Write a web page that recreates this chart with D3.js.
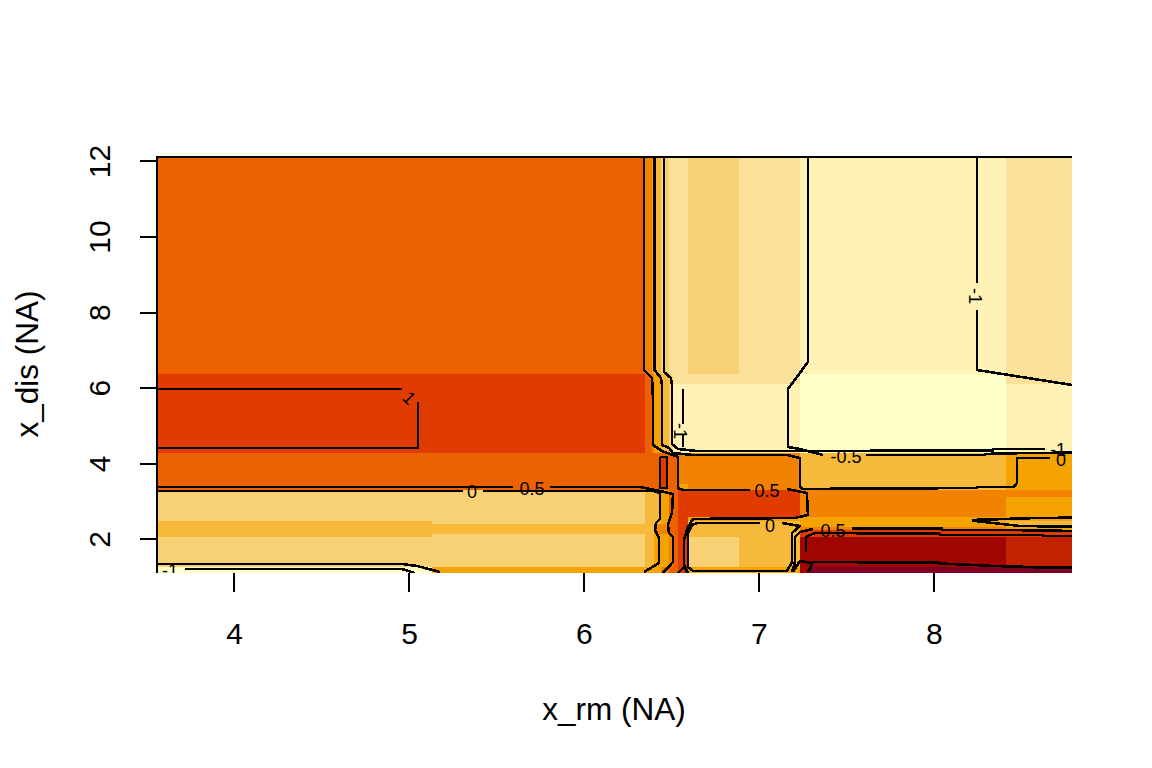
<!DOCTYPE html>
<html><head><meta charset="utf-8">
<script src="https://cdn.jsdelivr.net/npm/d3@7/dist/d3.min.js"></script>
<style>html,body{margin:0;background:#fff}svg{display:block}text{font-family:"Liberation Sans",Arial,sans-serif;fill:#000}</style>
</head><body><svg id="c" width="1152" height="768"></svg>
<script>
const xTicks = [4,5,6,7,8];
const yTicks = [2,4,6,8,10,12];
const levelColors = ["#FFFFC8","#FEF2B4","#FBE199","#F7D173","#F7B93C","#F5A300","#F28300","#EC6200","#E03B00","#C32200","#A00500","#7D0025"];
const xEdges = [3.56,5.131,6.349,6.389,6.4,6.44,6.486,6.509,6.537,6.594,6.886,7.234,8.411,8.789];
const yEdges = [12.105,6.365,6.1,4.275,3.296,3.111,2.582,2.476,2.396,2.317,2.238,2.132,2.052,1.259,1.1];
const fillLevels = [
 [7,7,6,5,4,3,2,2,2,3,2,1,2],
 [8,8,7,6,5,4,3,2,2,2,2,0,2],
 [8,8,7,6,5,4,3,1,1,1,1,0,1],
 [7,7,7,7,7,7,7,7,6,6,6,4,5],
 [3,3,4,4,4,5,7,7,8,8,8,6,6],
 [3,3,4,4,4,5,7,7,8,8,8,6,5],
 [3,3,4,4,4,5,7,7,8,5,5,5,5],
 [4,3,4,4,4,5,7,7,8,4,4,5,4],
 [4,4,4,4,6,6,7,7,8,4,4,5,4],
 [4,4,4,4,6,6,7,7,8,4,4,6,5],
 [4,4,4,4,6,6,7,7,8,4,4,8,8],
 [4,3,4,4,5,5,7,7,8,4,4,8,8],
 [3,3,4,4,5,5,6,7,8,3,4,10,9],
 [0,5,5,5,5,6,7,7,8,5,5,11,11]
];
// small cells that do not fit the main grid: x0, x1, y0, y1, level
const fillPatches = [
 [6.44,6.469,4.169,3.349,8],
 [6.549,6.594,3.455,3.296,5],
 [7.234,7.28,1.259,1.1,10]
];
const contourLines = [
 [[8.246,12.106],[8.246,8.772]],
 [[8.246,8.058],[8.246,6.471],[8.789,6.074]],
 [[7.28,12.106],[7.28,6.683],[7.166,5.968],[7.166,4.434],[7.234,4.381],[7.366,4.222]],
 [[7.611,4.222],[8.291,4.222],[8.291,4.249],[8.531,4.275],[8.789,4.283]],
 [[6.457,12.106],[6.457,6.418],[6.497,6.259],[6.503,6.074],[6.503,4.513],[6.537,4.381],[6.64,4.328],[8.337,4.336],[8.337,4.381],[8.634,4.381]],
 [[6.403,12.106],[6.403,6.471],[6.44,6.259],[6.446,6.074],[6.446,4.487],[6.486,4.407],[6.509,4.275],[6.623,4.222],[7.16,4.222],[7.234,4.143],[7.234,3.376],[7.251,3.323],[8.246,3.349],[8.246,3.376],[8.457,3.376],[8.474,3.481],[8.474,4.143],[8.663,4.143]],
 [[6.343,12.106],[6.343,6.471],[6.389,6.259],[6.394,5.757],[6.394,4.487],[6.446,4.328],[6.537,4.169],[6.537,3.349],[6.566,3.296],[6.949,3.296]],
 [[7.16,3.323],[7.274,3.217],[7.28,2.635],[7.206,2.556],[6.623,2.529],[6.594,2.317],[6.571,1.974],[6.571,1.312],[6.594,1.1]],
 [[7.006,2.423],[6.646,2.423],[6.617,2.37],[6.594,2.159],[6.594,1.259],[6.623,1.153],[7.16,1.153],[7.189,1.392],[7.189,2.159],[7.234,2.344],[7.131,2.423]],
 [[7.309,2.265],[7.234,2.185],[7.206,2.053],[7.206,1.392],[7.189,1.127]],
 [[7.531,2.283],[8.046,2.283],[8.046,2.238],[8.417,2.238],[8.789,2.212]],
 [[7.269,1.656],[7.269,2.053],[7.32,2.159],[8.034,2.14],[8.034,2.106],[8.623,2.106],[8.623,2.079],[8.789,2.079]],
 [[7.303,1.365],[7.234,1.418],[7.194,1.127]],
 [[7.28,1.127],[7.309,1.392],[8.034,1.373],[8.034,1.352],[8.189,1.32],[8.337,1.286],[8.491,1.267],[8.634,1.241],[8.789,1.241]],
 [[8.217,2.503],[8.406,2.529],[8.594,2.556],[8.789,2.563]],
 [[8.217,2.484],[8.337,2.423],[8.491,2.344],[8.789,2.325]],
 [[3.56,3.376],[5.594,3.376]],
 [[5.806,3.376],[6.32,3.376],[6.434,3.27],[6.509,3.19],[6.503,2.688],[6.48,2.37],[6.486,2.159],[6.509,2.053],[6.509,1.392],[6.451,1.1]],
 [[3.56,3.27],[5.309,3.27]],
 [[5.423,3.27],[6.4,3.27],[6.434,3.217],[6.434,2.529],[6.411,2.423],[6.406,2.238],[6.429,2.026],[6.429,1.365],[6.343,1.127]],
 [[6.434,4.169],[6.474,4.169],[6.474,3.349],[6.434,3.349],[6.434,4.169]],
 [[6.537,1.1],[6.571,1.259],[6.594,1.1]],
 [[3.56,5.968],[4.96,5.968]],
 [[5.051,5.624],[5.051,4.407],[3.56,4.407]],
 [[3.56,1.339],[4.96,1.339],[5.046,1.286],[5.177,1.127]],
 [[3.72,1.206],[4.96,1.206],[5.034,1.1]],
 [[6.566,5.968],[6.566,5.042]],
 [[6.566,4.751],[6.566,4.434]]
];
// contour labels: text, x, y, rotation
const contourLabels = [
 ["-1",8.234,8.429,90],["-1",6.549,4.857,90],["1",5,5.73,45],
 ["0.5",5.703,3.323,0],["0",5.36,3.243,0],["0.5",7.046,3.27,0],["0",7.063,2.344,0],
 ["0.5",7.423,2.212,0],["-0.5",7.497,4.169,0],["-1",8.709,4.354,0],["0",8.726,4.09,0],["-1",3.634,1.153,0]
];
const xTitle = "x_rm (NA)";
const yTitle = "x_dis (NA)";

const svg = d3.select("#c");
const x = d3.scaleLinear().domain([3.56,8.789]).range([157,1072]);
const y = d3.scaleLinear().domain([1.1,12.105]).range([573,157]);
const color = d3.scaleOrdinal().domain(d3.range(levelColors.length)).range(levelColors);

svg.append("clipPath").attr("id","plot").append("rect")
  .attr("x",x(3.56)).attr("y",y(12.105)).attr("width",x(8.789)-x(3.56)).attr("height",y(1.1)-y(12.105));

const cells = [];
fillLevels.forEach((row,r)=>row.forEach((lv,c)=>cells.push([xEdges[c],xEdges[c+1],yEdges[r],yEdges[r+1],lv])));
svg.append("g").attr("shape-rendering","crispEdges").selectAll("rect").data(cells.concat(fillPatches)).join("rect")
  .attr("x",d=>x(d[0])).attr("width",d=>x(d[1])-x(d[0]))
  .attr("y",d=>y(d[2])).attr("height",d=>y(d[3])-y(d[2]))
  .attr("fill",d=>color(d[4]));

const line = d3.line().x(d=>x(d[0])).y(d=>y(d[1]));
const g = svg.append("g").attr("clip-path","url(#plot)");
g.selectAll("path").data(contourLines).join("path").attr("d",line)
  .attr("fill","none").attr("stroke","#000").attr("stroke-width",2.6).attr("stroke-linejoin","round").attr("shape-rendering","crispEdges");
g.selectAll("text").data(contourLabels).join("text").text(d=>d[0])
  .attr("font-size",18).attr("text-anchor","middle").attr("dominant-baseline","central")
  .attr("transform",d=>`translate(${x(d[1])},${y(d[2])}) rotate(${d[3]})`);

const axB = svg.append("g").attr("transform",`translate(0,${y(1.1)})`)
  .call(d3.axisBottom(x).tickValues(xTicks).tickSize(19).tickPadding(19).tickFormat(d3.format("d")));
axB.select(".domain").remove();
const axL = svg.append("g").attr("transform",`translate(${x(3.56)},0)`)
  .call(d3.axisLeft(y).tickValues(yTicks).tickSize(17).tickPadding(0).tickFormat(d3.format("d")));
axL.select(".domain").remove();
[axB,axL].forEach(a=>{a.selectAll("line").attr("stroke","#000").attr("stroke-width",2).attr("shape-rendering","crispEdges");
  a.selectAll("text").attr("font-size",30).attr("font-family",null);});
axB.selectAll("text").attr("dy",null).attr("y",null).attr("text-anchor","middle").attr("dominant-baseline","central")
  .attr("transform",()=>"translate(0,60)");
axL.selectAll("text").attr("x",null).attr("dy",null).attr("text-anchor","middle").attr("dominant-baseline","central")
  .attr("transform","translate(-58,0) rotate(-90)");

svg.append("path").attr("d",line([[3.56,1.1],[3.56,12.105],[8.789,12.105]]))
  .attr("fill","none").attr("stroke","#000").attr("stroke-width",2).attr("shape-rendering","crispEdges");

svg.append("text").text(xTitle).attr("x",614).attr("y",709).attr("font-size",31.5)
  .attr("text-anchor","middle").attr("dominant-baseline","central");
svg.append("text").text(yTitle).attr("font-size",31.5).attr("text-anchor","middle").attr("dominant-baseline","central")
  .attr("transform","translate(27,364) rotate(-90)");
</script></body></html>
